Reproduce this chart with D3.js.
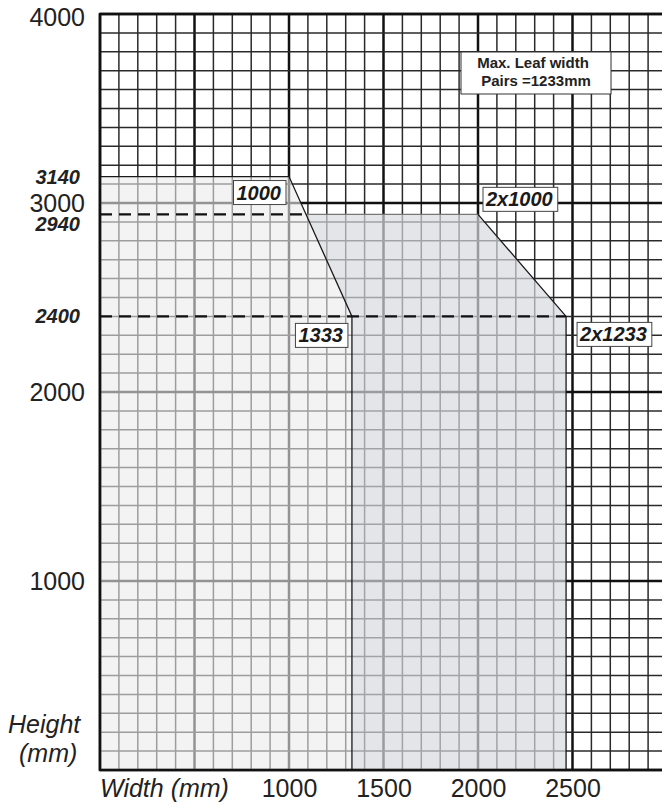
<!DOCTYPE html>
<html lang="en">
<head>
    <meta charset="UTF-8">
    <title>Door size chart</title>
    <script src="https://d3js.org/d3.v7.min.js"></script>
    <style>
        body { margin: 0; background: #fff; font-family: "Liberation Sans", Arial, sans-serif; }
        svg { display: block; }
    </style>
</head>
<body>
    <div id="chart"></div>

    <script>
        // values in mm
        const heightTicks = [1000, 2000, 3000, 4000];
        const widthTicks = [1000, 1500, 2000, 2500];
        const limitHeights = [3140, 2940, 2400];
        const singleLeaf = [[0, 0], [0, 3140], [1000, 3140], [1333, 2400], [1333, 0]];
        const pairLeaf = [[0, 0], [0, 2940], [2000, 2940], [2466, 2400], [2466, 0]];
        const cornerLabels = ["1000", "1333", "2x1000", "2x1233"];
        const noteLines = ["Max. Leaf width", "Pairs =1233mm"];

        const W = 662, H = 803;
        const svg = d3.select("#chart").append("svg")
            .attr("width", W)
            .attr("height", H);

        const x = d3.scaleLinear().domain([0, 3000]).range([100, 667]);
        const y = d3.scaleLinear().domain([0, 4000]).range([770, 14]);

        // grid every 100mm, heavier every 500 (width) / 1000 (height)
        const grid = svg.append("g");
        d3.range(0, 3001, 100).forEach(v => {
            const major = v % 500 === 0;
            grid.append("line")
                .attr("x1", x(v)).attr("x2", x(v))
                .attr("y1", y(0)).attr("y2", y(4000))
                .attr("stroke", major ? "#111" : "#2a2a2a")
                .attr("stroke-width", major ? 2.5 : 1.5);
        });
        d3.range(0, 4001, 100).forEach(v => {
            const major = v % 1000 === 0;
            grid.append("line")
                .attr("x1", x(0)).attr("x2", W)
                .attr("y1", y(v)).attr("y2", y(v))
                .attr("stroke", major ? "#111" : "#2a2a2a")
                .attr("stroke-width", major ? 2.5 : 1.5);
        });

        // where the single leaf slope meets the pair height
        const s0 = singleLeaf[2], s1 = singleLeaf[3];
        const pairH = pairLeaf[1][1];
        const xi = s0[0] + (s1[0] - s0[0]) * (s0[1] - pairH) / (s0[1] - s1[1]);

        const pairOnly = [[xi, pairH], pairLeaf[2], pairLeaf[3], pairLeaf[4], [s1[0], 0], s1];

        const line = d3.line().x(d => x(d[0])).y(d => y(d[1]));

        svg.append("path")
            .attr("d", line(pairOnly) + "Z")
            .attr("fill", "#d8d9dd")
            .attr("fill-opacity", 0.69);

        svg.append("path")
            .attr("d", line(singleLeaf) + "Z")
            .attr("fill", "#ebebeb")
            .attr("fill-opacity", 0.6);

        // outlines
        svg.append("path")
            .attr("d", line([[xi, pairH], pairLeaf[2]]))
            .attr("fill", "none").attr("stroke", "#777").attr("stroke-width", 1.2);
        svg.append("path")
            .attr("d", line(pairLeaf.slice(2)))
            .attr("fill", "none").attr("stroke", "#1a1a1a").attr("stroke-width", 1.3);
        svg.append("path")
            .attr("d", line(singleLeaf.slice(1)))
            .attr("fill", "none").attr("stroke", "#1a1a1a").attr("stroke-width", 1.3);

        // dashed limits
        svg.append("line")
            .attr("x1", x(0)).attr("x2", x(xi))
            .attr("y1", y(pairH)).attr("y2", y(pairH))
            .attr("stroke", "#111").attr("stroke-width", 2.4)
            .attr("stroke-dasharray", "12,7");
        svg.append("line")
            .attr("x1", x(0)).attr("x2", x(pairLeaf[3][0]))
            .attr("y1", y(s1[1])).attr("y2", y(s1[1]))
            .attr("stroke", "#111").attr("stroke-width", 2.4)
            .attr("stroke-dasharray", "12,7");

        // frame
        svg.append("path")
            .attr("d", `M${W},${y(4000)}H${x(0)}V${y(0)}H${W}`)
            .attr("fill", "none").attr("stroke", "#111").attr("stroke-width", 2.6);

        // axes
        const yAxis = svg.append("g")
            .attr("transform", `translate(${x(0)},0)`)
            .call(d3.axisLeft(y).tickValues(heightTicks).tickSize(0).tickPadding(15).tickFormat(d3.format("d")));
        const xAxis = svg.append("g")
            .attr("transform", `translate(0,${y(0)})`)
            .call(d3.axisBottom(x).tickValues(widthTicks).tickSize(0).tickPadding(9).tickFormat(d3.format("d")));
        [yAxis, xAxis].forEach(a => {
            a.select(".domain").remove();
            a.selectAll("text")
                .attr("fill", "#222")
                .style("font-family", "'Liberation Sans', Arial, sans-serif")
                .style("font-size", "25px");
        });
        yAxis.selectAll("text").attr("dy", d => d === 4000 ? "0.45em" : "0.34em");

        // bold italic limit heights
        svg.selectAll(".limit")
            .data(limitHeights)
            .enter().append("text")
            .attr("class", "limit")
            .attr("x", 80)
            .attr("y", d => y(d) + 7 + (d === pairH ? 10 : 0))
            .attr("text-anchor", "end")
            .attr("fill", "#222")
            .style("font-size", "20px")
            .style("font-weight", "bold")
            .style("font-style", "italic")
            .text(d => d);

        // axis titles
        const title = (t, tx, ty) => svg.append("text")
            .attr("x", tx).attr("y", ty)
            .attr("fill", "#222")
            .style("font-size", "25px")
            .style("font-style", "italic")
            .text(t);
        title("Height", 8, 733);
        title("(mm)", 19, 762);
        title("Width (mm)", 100, 797);

        // boxed corner labels
        const anchors = {
            "1000":   { px: x(1000) - 3,  py: y(3140) + 16, side: "left" },
            "1333":   { px: x(1333) - 4,  py: y(2400) + 19, side: "left" },
            "2x1000": { px: x(2000) + 5,  py: y(2940) - 15, side: "right" },
            "2x1233": { px: x(2466) + 11, py: y(2400) + 18, side: "right" }
        };
        cornerLabels.forEach(t => {
            const a = anchors[t];
            const g = svg.append("g");
            const rect = g.append("rect")
                .attr("fill", "#fff")
                .attr("stroke", "#444")
                .attr("stroke-width", 1);
            const txt = g.append("text")
                .attr("fill", "#1a1a1a")
                .style("font-size", "20px")
                .style("font-weight", "bold")
                .style("font-style", "italic")
                .attr("y", a.py + 7)
                .text(t);
            const w = txt.node().getComputedTextLength();
            const bw = w + 8, bh = 24;
            const left = a.side === "left" ? a.px - bw : a.px;
            txt.attr("x", left + 3);
            rect.attr("x", left).attr("y", a.py - bh / 2)
                .attr("width", bw).attr("height", bh);
        });

        // note box
        const note = svg.append("g");
        note.append("rect")
            .attr("x", 461).attr("y", 52)
            .attr("width", 150).attr("height", 42)
            .attr("fill", "#fff")
            .attr("stroke", "#333")
            .attr("stroke-width", 1);
        note.selectAll("text")
            .data(noteLines)
            .enter().append("text")
            .attr("x", (d, i) => i === 0 ? 533 : 536)
            .attr("y", (d, i) => 68 + i * 18)
            .attr("text-anchor", "middle")
            .attr("fill", "#222")
            .style("font-size", "15px")
            .style("font-weight", "bold")
            .text(d => d);
    </script>
</body>
</html>
